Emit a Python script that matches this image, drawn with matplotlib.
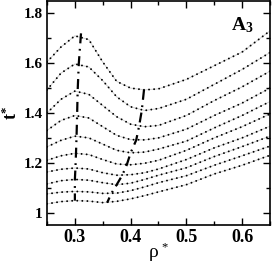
import matplotlib
matplotlib.use("Agg")
import matplotlib.pyplot as plt
import numpy as np

rho = [0.25, 0.275, 0.30, 0.325, 0.35, 0.375, 0.40, 0.425, 0.45, 0.50, 0.55, 0.60, 0.65]

t_curves = [
    [1.605, 1.665, 1.710, 1.695, 1.605, 1.527, 1.500, 1.493, 1.497, 1.535, 1.590, 1.645, 1.730],
    [1.493, 1.560, 1.597, 1.585, 1.530, 1.465, 1.425, 1.410, 1.418, 1.455, 1.515, 1.575, 1.643],
    [1.400, 1.455, 1.488, 1.475, 1.430, 1.385, 1.355, 1.345, 1.350, 1.390, 1.450, 1.505, 1.568],
    [1.330, 1.370, 1.390, 1.380, 1.345, 1.310, 1.293, 1.292, 1.300, 1.335, 1.390, 1.440, 1.500],
    [1.264, 1.290, 1.307, 1.300, 1.275, 1.250, 1.240, 1.243, 1.255, 1.287, 1.340, 1.390, 1.446],
    [1.210, 1.228, 1.238, 1.233, 1.213, 1.195, 1.192, 1.198, 1.210, 1.250, 1.300, 1.345, 1.396],
    [1.163, 1.174, 1.179, 1.175, 1.160, 1.150, 1.152, 1.160, 1.175, 1.213, 1.260, 1.300, 1.347],
    [1.115, 1.128, 1.133, 1.130, 1.120, 1.112, 1.118, 1.133, 1.150, 1.180, 1.225, 1.265, 1.307],
    [1.075, 1.082, 1.085, 1.083, 1.077, 1.078, 1.088, 1.103, 1.120, 1.148, 1.190, 1.228, 1.267],
    [1.035, 1.044, 1.048, 1.046, 1.040, 1.045, 1.055, 1.068, 1.083, 1.112, 1.155, 1.190, 1.230],
]

max_rho = [0.311, 0.307, 0.305, 0.304, 0.303, 0.302, 0.301, 0.300, 0.300, 0.300]
max_t = [1.720, 1.598, 1.490, 1.390, 1.307, 1.238, 1.179, 1.133, 1.085, 1.048]

min_rho = [0.424, 0.420, 0.415, 0.410, 0.400, 0.393, 0.385, 0.375, 0.365, 0.358]
min_t = [1.493, 1.410, 1.345, 1.291, 1.240, 1.191, 1.150, 1.112, 1.075, 1.040]

xticks = [0.3, 0.4, 0.5, 0.6]
xticklabels = ["0.3", "0.4", "0.5", "0.6"]
yticks = [1.0, 1.2, 1.4, 1.6, 1.8]
yticklabels = ["1", "1.2", "1.4", "1.6", "1.8"]

plt.rcParams['font.family'] = ['Liberation Serif', 'DejaVu Serif']
plt.rcParams['mathtext.fontset'] = 'custom'
plt.rcParams['mathtext.rm'] = 'Liberation Serif'
plt.rcParams['mathtext.it'] = 'Liberation Serif:italic'
plt.rcParams['mathtext.bf'] = 'Liberation Serif:bold'

fig = plt.figure(figsize=(2.73, 2.66), dpi=100)
ax = fig.add_axes([47/273, 1 - 225/266, 223/273, 224/266])

for t in t_curves:
    ax.plot(rho, t, color='#d0d0d0', lw=0.7, zorder=1)
    ax.plot(rho, t, color='black', lw=1.4, linestyle=(0, (0.01, 2.6)),
            dash_capstyle='round', zorder=2)

ax.plot(max_rho, max_t, color='black', lw=1.6, linestyle=(0, (4.5, 2.5, 0.8, 2.5)), zorder=3)
ax.plot(min_rho, min_t, color='black', lw=1.6, linestyle=(0, (4.5, 2.5, 0.8, 2.5)), zorder=3)

ax.set_xlim(0.25, 0.65)
ax.set_ylim(0.95, 1.85)
ax.set_xticks(xticks)
ax.set_xticklabels(xticklabels, fontsize=13, fontweight='bold')
ax.set_yticks(yticks)
ax.set_yticklabels(yticklabels, fontsize=11, fontweight='bold')
ax.set_xticks(np.arange(0.25, 0.651, 0.05), minor=True)
ax.set_yticks(np.arange(1.0, 1.85, 0.1), minor=True)
ax.tick_params(which='both', direction='in', top=True, right=True, width=1.0)
ax.tick_params(which='major', length=5, pad=3)
ax.tick_params(which='minor', length=3)
for s in ax.spines.values():
    s.set_linewidth(1.2)

fig.text(154/273, 1 - 257/266, 'ρ', fontsize=14, ha='center', va='baseline')
fig.text(165/273, 1 - 250/266, '*', fontsize=9, ha='center', va='baseline')
ax.set_ylabel(r'$\mathbf{t}^{\mathbf{*}}$', fontsize=13, labelpad=2)

ax.text(0.825, 0.87, r'$\mathbf{A_3}$', transform=ax.transAxes, fontsize=14)

fig.savefig('out.png', dpi=100)
